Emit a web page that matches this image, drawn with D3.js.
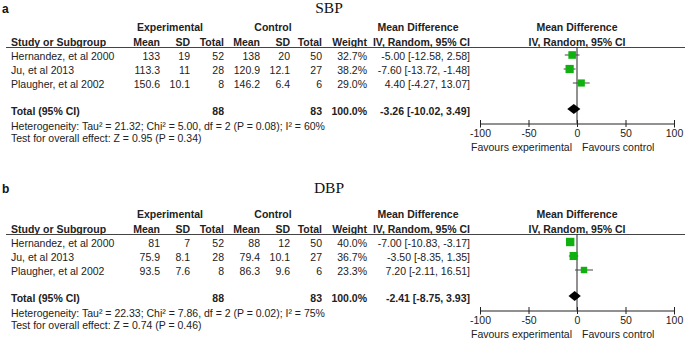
<!DOCTYPE html>
<html>
<head>
<meta charset="utf-8">
<script src="https://cdn.jsdelivr.net/npm/d3@7"></script>
<style>
  body { margin: 0; background: #fff; }
  svg { display: block; font-family: "Liberation Sans", Arial, sans-serif; }
  .t { font-size: 10.5px; fill: #222; }
  .b { font-weight: bold; }
</style>
</head>
<body>
<div id="chart"></div>
<script>
const studies = ["Hernandez, et al 2000", "Ju, et al 2013", "Plaugher, et al 2002"];
const ticks = [-100, -50, 0, 50, 100];

// SBP
const sbpExpMean = ["133", "113.3", "150.6"];
const sbpExpSD = ["19", "11", "10.1"];
const sbpExpN = [52, 28, 8];
const sbpCtlMean = ["138", "120.9", "146.2"];
const sbpCtlSD = ["20", "12.1", "6.4"];
const sbpCtlN = [50, 27, 6];
const sbpWeight = [32.7, 38.2, 29.0];
const sbpMD = [-5.0, -7.6, 4.4];
const sbpLo = [-12.58, -13.72, -4.27];
const sbpHi = [2.58, -1.48, 13.07];
const sbpTotal = { md: -3.26, lo: -10.02, hi: 3.49, expN: 88, ctlN: 83 };
const sbpHet = "Heterogeneity: Tau\u00b2 = 21.32; Chi\u00b2 = 5.00, df = 2 (P = 0.08); I\u00b2 = 60%";
const sbpTest = "Test for overall effect: Z = 0.95 (P = 0.34)";

// DBP
const dbpExpMean = ["81", "75.9", "93.5"];
const dbpExpSD = ["7", "8.1", "7.6"];
const dbpExpN = [52, 28, 8];
const dbpCtlMean = ["88", "79.4", "86.3"];
const dbpCtlSD = ["12", "10.1", "9.6"];
const dbpCtlN = [50, 27, 6];
const dbpWeight = [40.0, 36.7, 23.3];
const dbpMD = [-7.0, -3.5, 7.2];
const dbpLo = [-10.83, -8.35, -2.11];
const dbpHi = [-3.17, 1.35, 16.51];
const dbpTotal = { md: -2.41, lo: -8.75, hi: 3.93, expN: 88, ctlN: 83 };
const dbpHet = "Heterogeneity: Tau\u00b2 = 22.33; Chi\u00b2 = 7.86, df = 2 (P = 0.02); I\u00b2 = 75%";
const dbpTest = "Test for overall effect: Z = 0.74 (P = 0.46)";

const W = 685, H = 341;
const svg = d3.select("#chart").append("svg").attr("width", W).attr("height", H);

const x = d3.scaleLinear().domain([-100, 100]).range([480, 674]);
const size = d3.scaleSqrt().domain([0, 40]).range([0, 8.4]);
// plain hyphen for negatives, as in the RevMan output
const loc = d3.formatLocale({ decimal: ".", thousands: ",", grouping: [3], currency: ["", ""], minus: "-" });
const f2 = loc.format(".2f");
const fw = loc.format(".1f");
const fi = loc.format("d");

function panel(letter, title, titleY, top, d) {
  const g = svg.append("g");
  const txt = (px, py, s, anchor = "start", bold = false) =>
    g.append("text").attr("class", "t" + (bold ? " b" : "")).attr("x", px).attr("y", py)
      .attr("text-anchor", anchor).text(s);

  g.append("text").attr("x", 2).attr("y", titleY + 5).attr("font-size", 12).attr("font-weight", "bold")
    .attr("fill", "#111").text(letter);
  g.append("text").attr("x", 329).attr("y", titleY + 5).attr("text-anchor", "middle")
    .attr("font-family", "'Liberation Serif', 'Times New Roman', serif").attr("font-size", 15.5)
    .attr("fill", "#111").text(title);

  // group headers
  txt(170, top + 31, "Experimental", "middle", true);
  txt(273, top + 31, "Control", "middle", true);
  txt(418, top + 31, "Mean Difference", "middle", true);
  txt(x(0), top + 31, "Mean Difference", "middle", true);

  const hy = top + 46;
  txt(11, hy, "Study or Subgroup", "start", true);
  [["Mean", 160], ["SD", 190], ["Total", 224], ["Mean", 260], ["SD", 290], ["Total", 322], ["Weight", 367],
   ["IV, Random, 95% CI", 470]].forEach(([s, px]) => txt(px, hy, s, "end", true));
  txt(x(0), hy, "IV, Random, 95% CI", "middle", true);

  const lineY = top + 47.5;
  g.append("line").attr("x1", 6).attr("x2", W).attr("y1", lineY).attr("y2", lineY)
    .attr("stroke", "#444").attr("stroke-width", 1);

  const rowY = i => top + 55 + i * 14;
  studies.forEach((s, i) => {
    const by = rowY(i) + 4.5;
    txt(11, by, s);
    txt(160, by, d.expMean[i], "end");
    txt(190, by, d.expSD[i], "end");
    txt(224, by, d.expN[i], "end");
    txt(260, by, d.ctlMean[i], "end");
    txt(290, by, d.ctlSD[i], "end");
    txt(322, by, d.ctlN[i], "end");
    txt(367, by, fw(d.weight[i]) + "%", "end");
    txt(470, by, `${f2(d.md[i])} [${f2(d.lo[i])}, ${f2(d.hi[i])}]`, "end");
  });

  const totY = top + 110;
  txt(11, totY + 4.5, "Total (95% CI)", "start", true);
  txt(224, totY + 4.5, d.total.expN, "end", true);
  txt(322, totY + 4.5, d.total.ctlN, "end", true);
  txt(367, totY + 4.5, "100.0%", "end", true);
  txt(470, totY + 4.5, `${f2(d.total.md)} [${f2(d.total.lo)}, ${f2(d.total.hi)}]`, "end", true);
  txt(11, top + 130, d.het);
  txt(11, top + 142, d.test);

  // forest plot
  const axisY = top + 123.5;
  g.append("line").attr("x1", x(0)).attr("x2", x(0)).attr("y1", lineY).attr("y2", axisY)
    .attr("stroke", "#222").attr("stroke-width", 1);

  const rows = studies.map((s, i) => ({ i, md: d.md[i], lo: d.lo[i], hi: d.hi[i], w: d.weight[i] }));
  g.selectAll(".ci").data(rows).join("line")
    .attr("x1", r => x(r.lo)).attr("x2", r => x(r.hi))
    .attr("y1", r => rowY(r.i)).attr("y2", r => rowY(r.i))
    .attr("stroke", "#444").attr("stroke-width", 1);
  g.selectAll(".sq").data(rows).join("rect")
    .attr("x", r => x(r.md) - size(r.w) / 2).attr("y", r => rowY(r.i) - size(r.w) / 2)
    .attr("width", r => size(r.w)).attr("height", r => size(r.w))
    .attr("fill", "#10b010");

  const t = d.total;
  g.append("path")
    .attr("d", `M${x(t.lo)},${totY - 1}L${x(t.md)},${totY - 6}L${x(t.hi)},${totY - 1}L${x(t.md)},${totY + 4}Z`)
    .attr("fill", "#000");

  const ax = g.append("g").attr("transform", `translate(0,${axisY})`)
    .call(d3.axisBottom(x).tickValues(ticks).tickSizeOuter(0).tickSize(4).tickFormat(fi));
  ax.select(".domain").attr("stroke", "#222");
  ax.selectAll(".tick line").attr("y1", -3.5).attr("y2", 3.5).attr("stroke", "#222");
  ax.selectAll(".tick text").attr("y", 6).attr("dy", "0.71em")
    .attr("font-size", 10.5).attr("font-family", "'Liberation Sans', Arial, sans-serif").attr("fill", "#222");

  txt(572, axisY + 27.5, "Favours experimental", "end");
  txt(582, axisY + 27.5, "Favours control", "start");
}

panel("a", "SBP", 8, 0, {
  expMean: sbpExpMean, expSD: sbpExpSD, expN: sbpExpN, ctlMean: sbpCtlMean, ctlSD: sbpCtlSD, ctlN: sbpCtlN,
  weight: sbpWeight, md: sbpMD, lo: sbpLo, hi: sbpHi, total: sbpTotal, het: sbpHet, test: sbpTest
});
panel("b", "DBP", 188, 187, {
  expMean: dbpExpMean, expSD: dbpExpSD, expN: dbpExpN, ctlMean: dbpCtlMean, ctlSD: dbpCtlSD, ctlN: dbpCtlN,
  weight: dbpWeight, md: dbpMD, lo: dbpLo, hi: dbpHi, total: dbpTotal, het: dbpHet, test: dbpTest
});
</script>
</body>
</html>
